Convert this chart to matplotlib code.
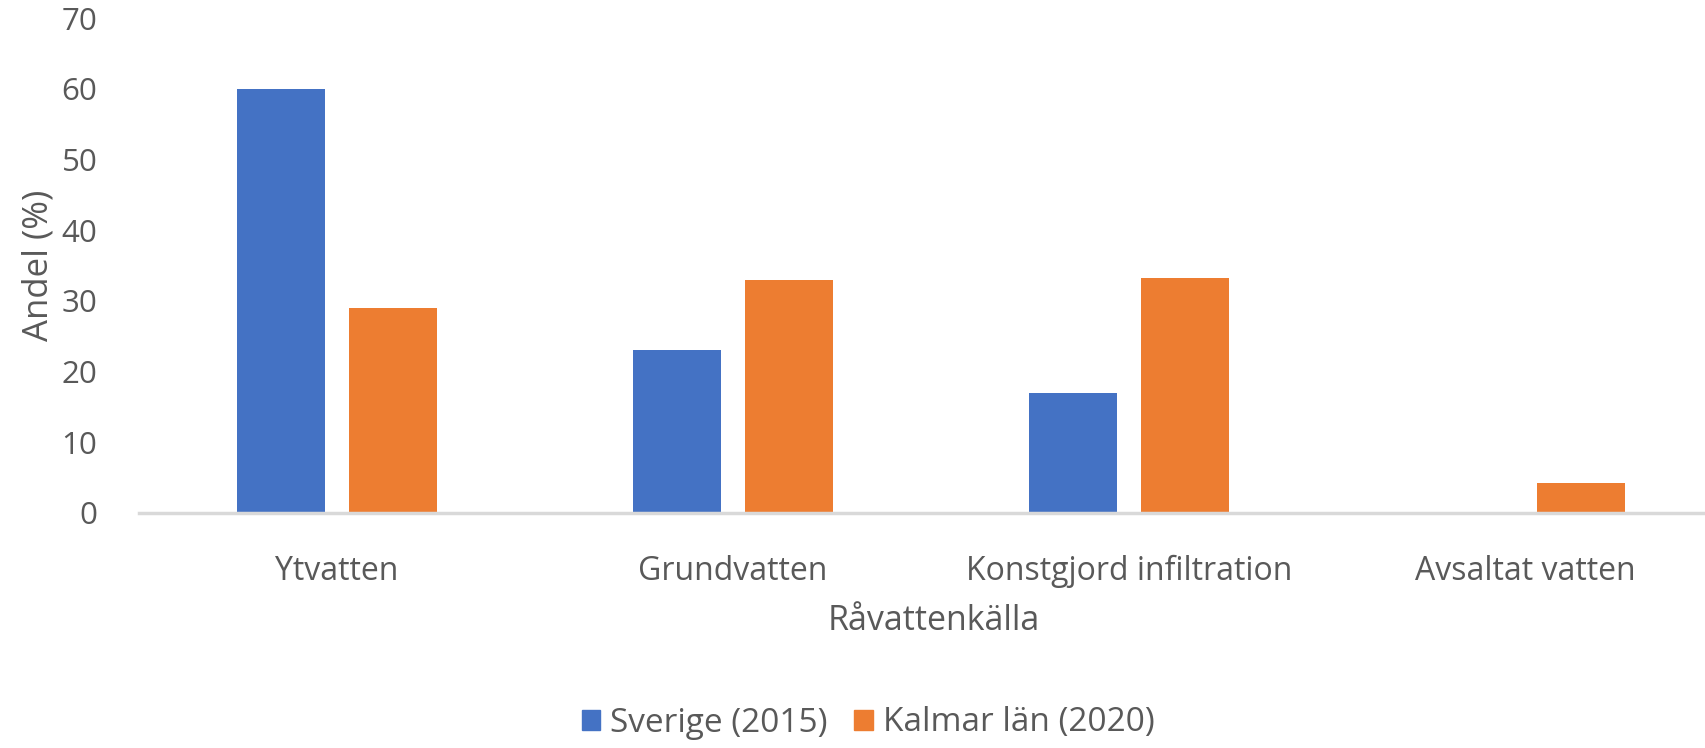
import matplotlib
matplotlib.use("Agg")
import matplotlib.pyplot as plt
import numpy as np
from matplotlib.patches import Patch

kategorier = ["Ytvatten", "Grundvatten", "Konstgjord infiltration", "Avsaltat vatten"]
sverige_2015 = [60, 23, 17, 0]
kalmar_2020 = [29, 33, 33.3, 4.3]
serier = ["Sverige (2015)", "Kalmar län (2020)"]

BLA = "#4472C4"
ORANGE = "#ED7D31"
GRA = "#595959"

plt.rcParams["font.family"] = ["Open Sans", "DejaVu Sans"]

fig = plt.figure(figsize=(17.06, 7.48), dpi=100)
ax = fig.add_axes([139 / 1706, 1 - 513 / 748, 1 - 139 / 1706, (513 - 18) / 748])

x = np.arange(len(kategorier))
w = 0.222
off = 0.141
ax.bar(x - off, sverige_2015, w, color=BLA, label=serier[0])
ax.bar(x + off, kalmar_2020, w, color=ORANGE, label=serier[1])

ax.set_xlim(-0.5, 3.457)
ax.set_ylim(0, 70)
ax.set_yticks(range(0, 71, 10))
ax.set_xticks(x)
ax.set_xticklabels(kategorier, fontsize=23)

for s in ["top", "right", "left"]:
    ax.spines[s].set_visible(False)
ax.spines["bottom"].set_color("#D9D9D9")
ax.spines["bottom"].set_linewidth(2.5)
ax.tick_params(axis="both", length=0, colors=GRA)
ax.tick_params(axis="y", pad=30, labelsize=22.5)
ax.tick_params(axis="x", pad=30)

ax.set_ylabel("Andel (%)", fontsize=25, color=GRA)
ax.yaxis.set_label_coords(-0.053, 0.5)

fig.text(934 / 1706, 1 - 621 / 748, "Råvattenkälla", fontsize=24.5, color=GRA,
         ha="center", va="center")

handles = [Patch(color=BLA, label=serier[0]), Patch(color=ORANGE, label=serier[1])]
fig.legend(handles=handles, loc="center", bbox_to_anchor=(868 / 1706, 1 - 723 / 748),
           ncol=2, frameon=False, fontsize=24, labelcolor=GRA,
           handlelength=0.55, handleheight=0.55, handletextpad=0.3, columnspacing=0.8)

fig.savefig("out.png", dpi=100)
